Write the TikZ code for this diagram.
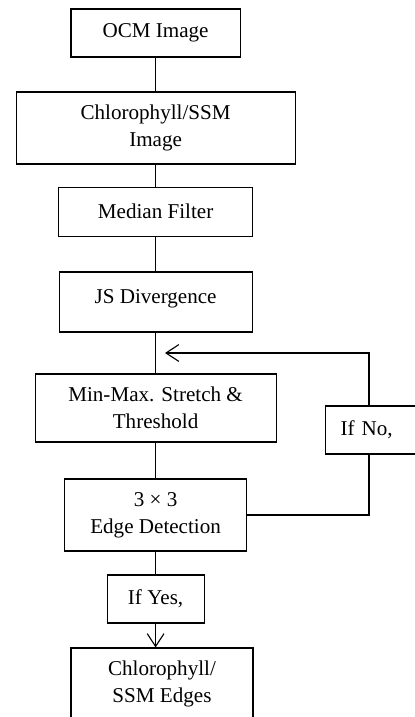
\documentclass[tikz,border=0pt]{standalone}
\usepackage{fontspec}
\setmainfont{Liberation Serif}
\usepackage{tikz}
\usetikzlibrary{calc}
\usetikzlibrary{arrows.meta}

\begin{document}
\begin{tikzpicture}[line width=0.8pt,
    bloc/.style={draw,align=center,inner sep=0pt,font=\fontsize{15}{19.2}\selectfont},
    fleche/.style={-{Straight Barb[length=0.32cm,width=0.42cm]}}]
            \useasboundingbox (0,0) rectangle (10.35,-17.925);
            \node[bloc,minimum width=4.23cm,minimum height=1.2cm] (ocm) at (3.89,-0.825) {OCM Image};
            \node[bloc,minimum width=6.975cm,minimum height=1.8cm] (chl) at (3.89,-3.2) {Chlorophyll/SSM\\Image};
            \node[bloc,minimum width=4.85cm,minimum height=1.225cm] (med) at (3.89,-5.29) {Median Filter};
            \node[bloc,minimum width=4.825cm,minimum height=1.5cm,text depth=8pt] (js) at (3.89,-7.55) {JS Divergence};
            \node[bloc,minimum width=6.025cm,minimum height=1.7cm] (minmax) at (3.89,-10.2) {Min-Max. Stretch \&\\Threshold};
            \node[bloc,minimum width=4.55cm,minimum height=1.8cm] (bord) at (3.89,-12.875) {3 × 3\\Edge Detection};
            \node[bloc,minimum width=2.425cm,minimum height=1.2cm] (oui) at (3.89,-14.975) {If Yes,};
            \node[bloc,minimum width=4.55cm,minimum height=1.8cm] (fin) at (4.05,-17.1) {Chlorophyll/\\SSM Edges};
            \node[bloc,anchor=west,text width=2cm,align=left,inner xsep=0.375cm,minimum height=1.2cm] (non) at (8.125,-10.75) {If No,};
            \coordinate (colonne) at (9.225,0);
            \draw (ocm) -- (chl);
            \draw (chl) -- (med);
            \draw (med) -- (js);
            \draw (js) -- (minmax);
            \draw (minmax) -- (bord);
            \draw (bord) -- (oui);
            \draw[fleche] (oui.south) -- (oui.south |- fin.north);
            \coordinate (retour) at ($(js.south)!0.5!(minmax.north)+(0.235,0)$);
            \draw (bord.east) -| (colonne |- non.south);
            \draw[fleche] (colonne |- non.north) |- (retour);
        \end{tikzpicture}
\end{document}
